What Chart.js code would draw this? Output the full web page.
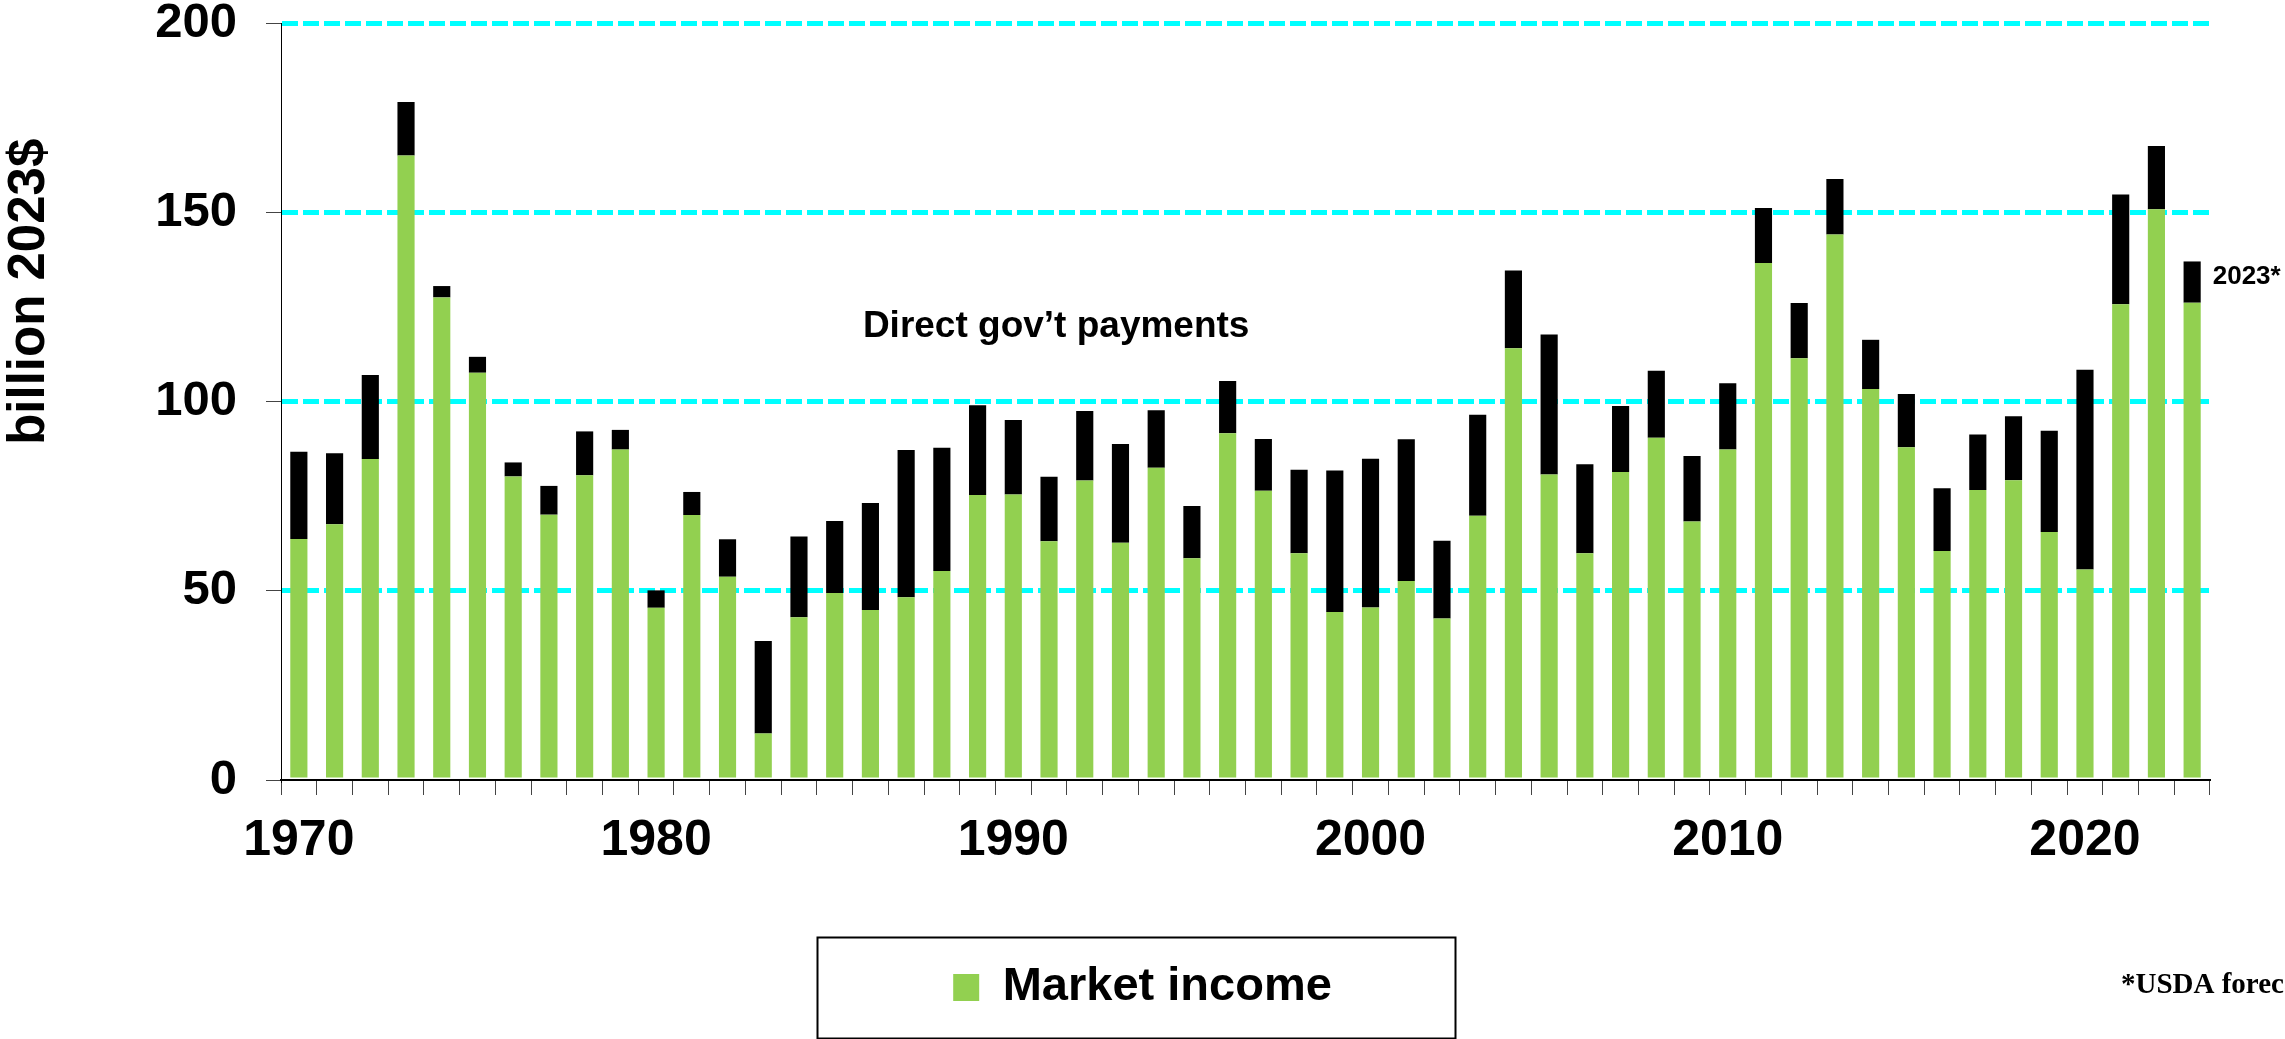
<!DOCTYPE html>
<html>
<head>
<meta charset="utf-8">
<script src="https://cdn.jsdelivr.net/npm/chart.js@4.4.1/dist/chart.umd.min.js"></script>
<style>
  html, body { margin: 0; padding: 0; background: #fff; }
  canvas { display: block; }
</style>
</head>
<body>
<canvas id="income" width="2285" height="1039"></canvas>
<script>
const years = [
  "1970", "1971", "1972", "1973", "1974", "1975", "1976", "1977", "1978", "1979",
  "1980", "1981", "1982", "1983", "1984", "1985", "1986", "1987", "1988", "1989",
  "1990", "1991", "1992", "1993", "1994", "1995", "1996", "1997", "1998", "1999",
  "2000", "2001", "2002", "2003", "2004", "2005", "2006", "2007", "2008", "2009",
  "2010", "2011", "2012", "2013", "2014", "2015", "2016", "2017", "2018", "2019",
  "2020", "2021", "2022", "2023"
];

// billion 2023$
const marketIncome = [
  63.7, 67.6, 84.8, 165.0, 127.5, 107.6, 80.2, 70.1, 80.5, 87.3,
  45.5, 70.0, 53.7, 12.3, 43.0, 49.4, 44.9, 48.3, 55.2, 75.3,
  75.4, 63.1, 79.1, 62.7, 82.5, 58.6, 91.6, 76.4, 59.9, 44.4,
  45.6, 52.6, 42.7, 69.8, 114.1, 80.7, 59.9, 81.4, 90.4, 68.3,
  87.3, 136.6, 111.4, 144.1, 103.3, 87.9, 60.5, 76.6, 79.2, 65.5,
  55.6, 125.7, 150.8, 126.1
];

const govPayments = [
  23.0, 18.7, 22.2, 14.1, 3.0, 4.2, 3.7, 7.6, 11.6, 5.2,
  4.6, 6.1, 9.9, 24.4, 21.3, 19.0, 28.3, 38.9, 32.6, 23.7,
  19.7, 17.0, 18.4, 26.1, 15.2, 13.8, 13.8, 13.7, 22.1, 37.4,
  39.3, 37.4, 20.5, 26.7, 20.5, 37.0, 23.5, 17.4, 17.7, 17.3,
  17.5, 14.5, 14.6, 14.7, 13.0, 14.1, 16.6, 14.7, 16.9, 26.8,
  52.8, 29.0, 16.7, 10.9
];

const yTicks = [0, 50, 100, 150, 200];
const labelEvery = 10;

const SANS = "'Liberation Sans', Arial, sans-serif";
const SERIF = "'Liberation Serif', 'Times New Roman', serif";

const extras = {
  id: "extras",
  afterDraw(chart) {
    const { ctx, scales: { x, y } } = chart;
    ctx.save();
    ctx.fillStyle = "#000";

    // y axis title
    ctx.save();
    ctx.translate(30, y.getPixelForValue(129));
    ctx.rotate(-Math.PI / 2);
    ctx.font = "bold 51px " + SANS;
    ctx.textAlign = "center";
    ctx.textBaseline = "middle";
    ctx.fillText("billion 2023$", 0, 0);
    ctx.restore();

    // series note
    ctx.font = "bold 37px " + SANS;
    ctx.textAlign = "center";
    ctx.textBaseline = "alphabetic";
    ctx.fillText("Direct gov\u2019t payments", x.getPixelForValue(21.2), y.getPixelForValue(117));

    // forecast mark next to the last bar
    const meta = chart.getDatasetMeta(1);
    const last = meta.data[meta.data.length - 1];
    ctx.font = "bold 26px " + SANS;
    ctx.textAlign = "left";
    ctx.textBaseline = "middle";
    ctx.fillText("2023*", last.x + last.width / 2 + 12, last.y + 15);

    // source note, runs off the right edge like the original
    ctx.font = "bold 29px " + SERIF;
    ctx.textBaseline = "alphabetic";
    ctx.fillText("*USDA forecast", chart.chartArea.right - 89, 993);

    // frame round the legend
    const hb = chart.legend.legendHitBoxes[0];
    if (hb) {
      const cx = hb.left + hb.width / 2;
      const cy = hb.top + hb.height / 2;
      ctx.strokeStyle = "#000";
      ctx.lineWidth = 2;
      ctx.strokeRect(cx - 325, cy - 50, 638, 101);
    }
    ctx.restore();
  }
};

new Chart(document.getElementById("income"), {
  type: "bar",
  data: {
    labels: years,
    datasets: [
      {
        label: "Market income",
        data: marketIncome,
        backgroundColor: "#92D050",
        borderWidth: 0,
      },
      {
        label: "Direct gov't payments",
        data: govPayments,
        backgroundColor: "#000000",
        borderWidth: 0,
      },
    ],
  },
  options: {
    responsive: false,
    devicePixelRatio: 1,
    animation: false,
    categoryPercentage: 1,
    barPercentage: 0.48,
    layout: { padding: { left: 0, right: 0, top: 0, bottom: 18 } },
    plugins: {
      tooltip: { enabled: false },
      legend: {
        position: "bottom",
        labels: {
          filter: (item) => item.datasetIndex === 0,
          color: "#000",
          font: { family: SANS, size: 47, weight: "bold" },
          boxWidth: 26,
          boxHeight: 27,
          padding: 10,
        },
      },
    },
    scales: {
      x: {
        stacked: true,
        grid: {
          offset: true,
          drawOnChartArea: false,
          drawTicks: true,
          tickLength: 15,
          tickColor: "#444",
          tickWidth: 1,
        },
        border: { display: true, color: "#000", width: 2 },
        ticks: {
          autoSkip: false,
          maxRotation: 0,
          padding: 16,
          color: "#000",
          font: { family: SANS, size: 50, weight: "bold" },
          callback: function (value, index) {
            const yr = years[index];
            return Number(yr) % labelEvery === 0 ? yr : "";
          },
        },
        afterFit: (scale) => { scale.height = 174; },
      },
      y: {
        stacked: true,
        min: 0,
        max: 200,
        afterBuildTicks: (scale) => { scale.ticks = yTicks.map((v) => ({ value: v })); },
        grid: {
          color: (c) => (c.tick && c.tick.value === 0 ? "rgba(0,0,0,0)" : "#00FFFF"),
          lineWidth: 5,
          drawTicks: true,
          tickLength: 15,
          tickColor: "#444",
          tickWidth: 1,
        },
        border: { display: true, color: "#000", width: 1, dash: [16, 5] },
        ticks: {
          padding: 29,
          color: "#000",
          font: { family: SANS, size: 49, weight: "bold" },
        },
        afterFit: (scale) => {
          scale.width = 281;
          scale.paddingTop = 23;
          scale.paddingBottom = 0;
        },
      },
      // empty strip on the right so the plot ends where the original does
      yRight: {
        position: "right",
        display: true,
        grid: { display: false },
        border: { display: false },
        ticks: { display: false },
        afterFit: (scale) => { scale.width = 75; },
      },
    },
  },
  plugins: [extras],
});
</script>
</body>
</html>
